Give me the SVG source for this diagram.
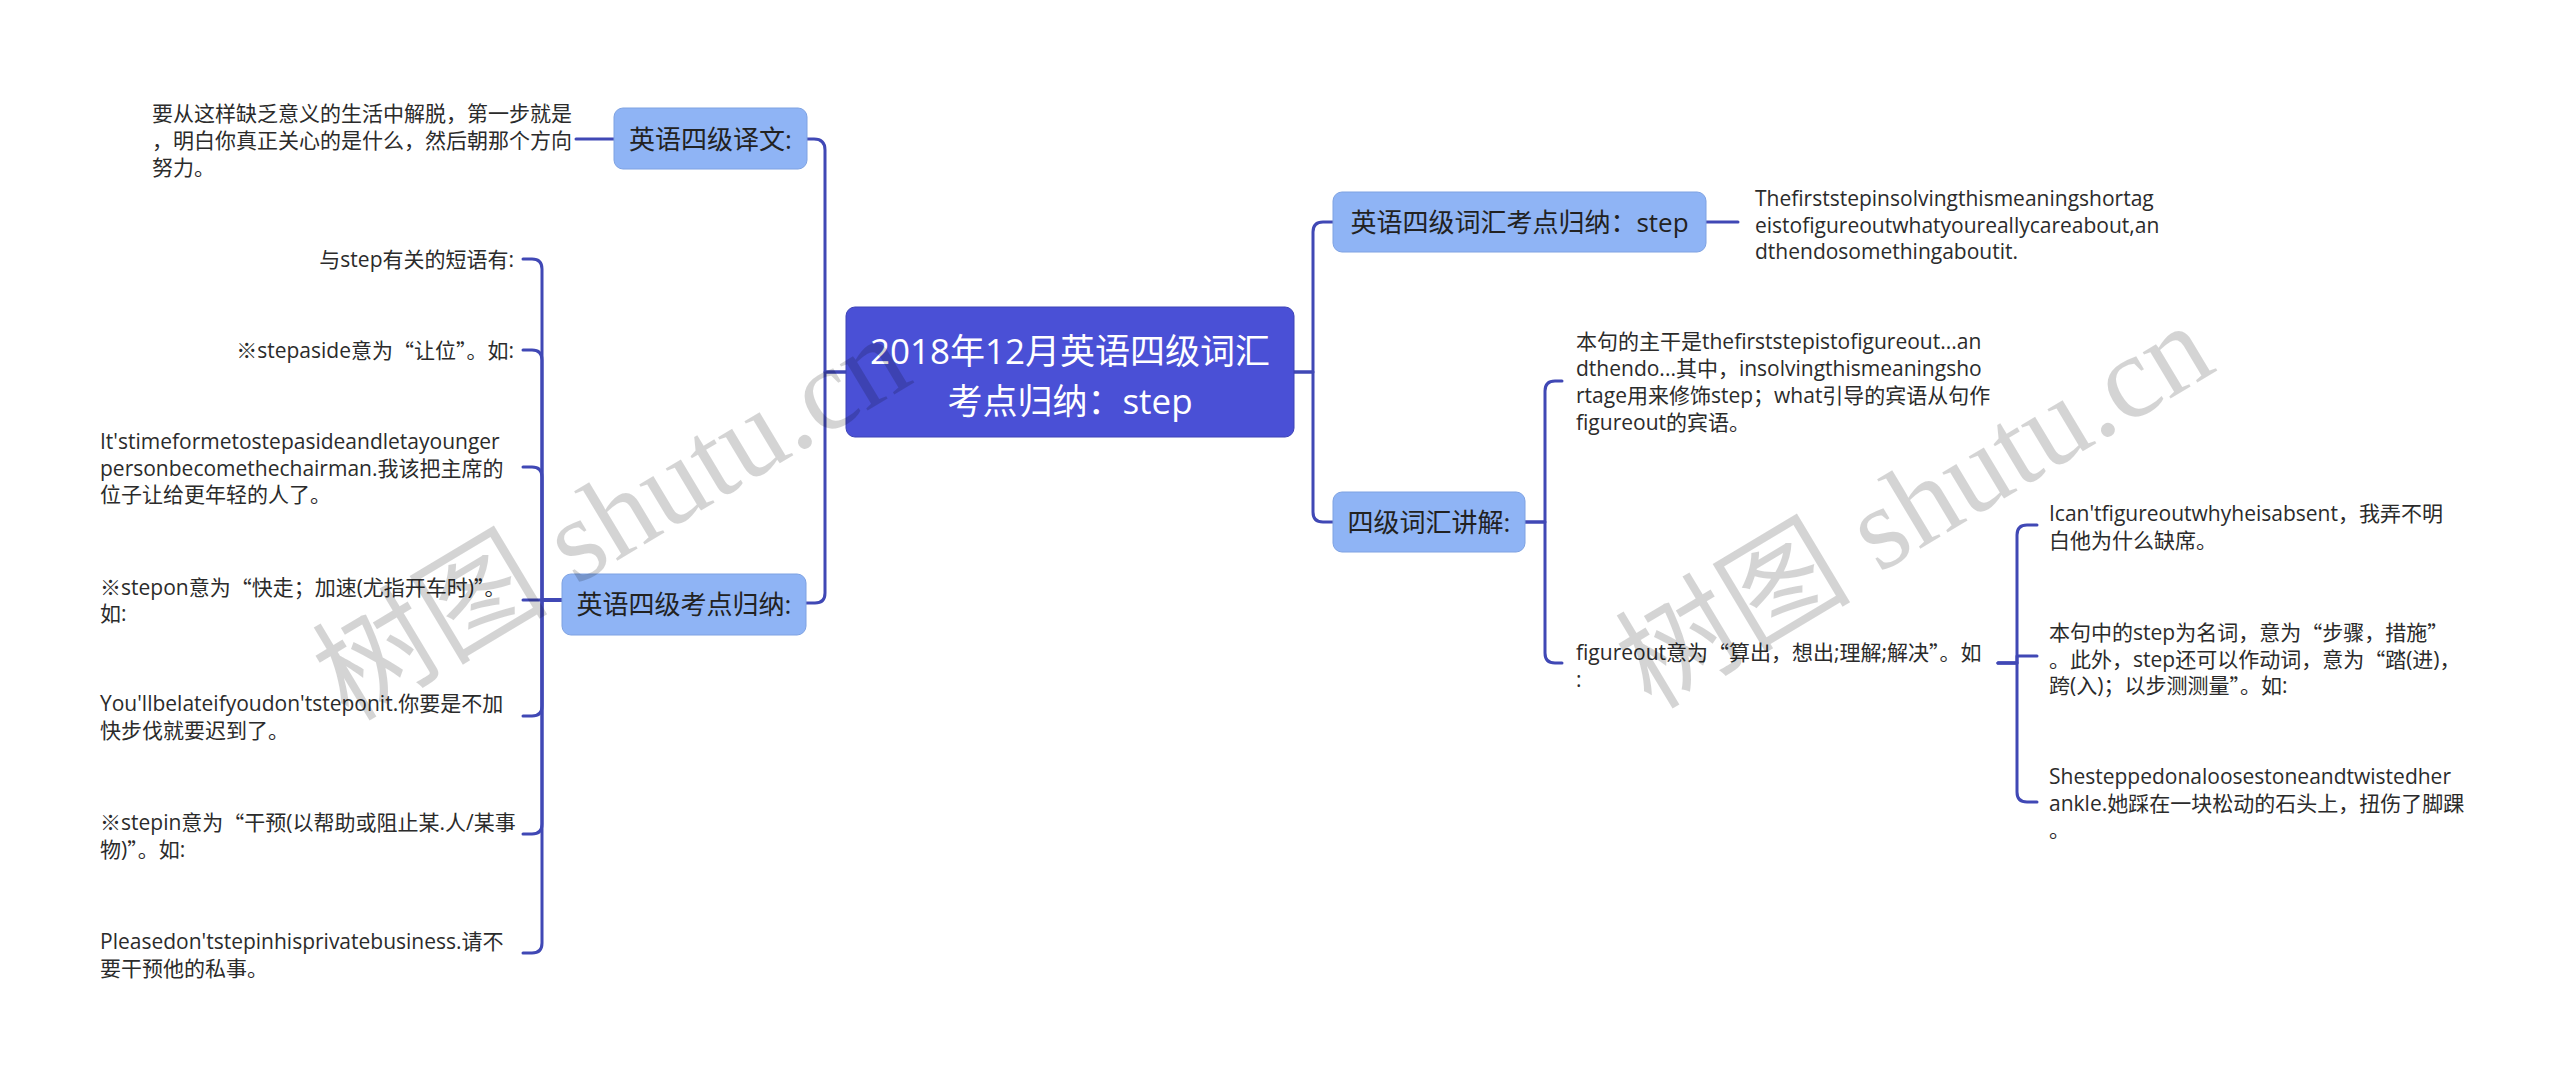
<svg xmlns="http://www.w3.org/2000/svg" width="2560" height="1079" viewBox="0 0 2560 1079">
<style>
.bg{fill:#ffffff}
.ln{fill:none;stroke:#4048b5;stroke-width:3;stroke-linecap:round;stroke-linejoin:round}
.box{fill:#8fb4f5;stroke:#7ea2e2;stroke-width:1}
.root{fill:#4a50d6;stroke:#3c42b6;stroke-width:1}
.t{font-family:"Open Sans","Noto Sans CJK SC",sans-serif;font-size:21px;fill:#2b2b2b;dominant-baseline:central}
.q{font-family:"Noto Sans CJK SC",sans-serif}
.bt{font-family:"Open Sans","Noto Sans CJK SC",sans-serif;font-size:26px;fill:#222222;dominant-baseline:central;text-anchor:middle}
.rt{font-family:"Open Sans","Noto Sans CJK SC",sans-serif;font-size:35px;fill:#ffffff;dominant-baseline:central;text-anchor:middle}
.wm{font-family:"Liberation Serif","Noto Sans CJK SC",serif;font-size:118px;fill:#000000;fill-opacity:0.17}
.end{text-anchor:end}
</style>
<rect class="bg" x="0" y="0" width="2560" height="1079"/>

<g id="connectors">
  <path class="ln" d="M846,372 H825 V150 Q825,139 814,139 H807"/>
  <path class="ln" d="M846,372 H825 V593 Q825,603 815,603 H806"/>
  <path class="ln" d="M1294,372 H1313 V232 Q1313,222 1323,222 H1333"/>
  <path class="ln" d="M1294,372 H1313 V512 Q1313,522 1323,522 H1333"/>
  <path class="ln" d="M614,139 H576"/>
  <path class="ln" d="M562,600 H542 V269 Q542,259 532,259 H523"/>
  <path class="ln" d="M562,600 H542 V360 Q542,350 532,350 H523"/>
  <path class="ln" d="M562,600 H542 V477 Q542,467 532,467 H523"/>
  <path class="ln" d="M562,600 H523"/>
  <path class="ln" d="M562,600 H542 V706 Q542,716 532,716 H523"/>
  <path class="ln" d="M562,600 H542 V824 Q542,834 532,834 H523"/>
  <path class="ln" d="M562,600 H542 V943 Q542,953 532,953 H523"/>
  <path class="ln" d="M1706,222 H1738"/>
  <path class="ln" d="M1525,522 H1545 V391 Q1545,381 1555,381 H1562"/>
  <path class="ln" d="M1525,522 H1545 V653 Q1545,663 1555,663 H1562"/>
  <path class="ln" d="M1998,663 H2017 V535 Q2017,525 2027,525 H2037"/>
  <path class="ln" d="M1998,663 H2017 V656 H2037"/>
  <path class="ln" d="M1998,663 H2017 V792 Q2017,802 2027,802 H2037"/>
</g>

<g id="root">
  <rect class="root" x="846" y="307" width="448" height="130" rx="9"/>
  <text class="rt" x="1070" y="350">2018年12月英语四级词汇</text>
  <text class="rt" x="1070" y="400">考点归纳：step</text>
</g>

<g id="n-yiwen">
  <rect class="box" x="614" y="108" width="193" height="61" rx="9"/>
  <text class="bt" x="710.5" y="139">英语四级译文:</text>
</g>
<g id="n-yiwen-text">
  <text class="t"><tspan x="152" y="113">要从这样缺乏意义的生活中解脱，第一步就是</tspan><tspan x="152" y="140">，明白你真正关心的是什么，然后朝那个方向</tspan><tspan x="152" y="167">努力。</tspan></text>
</g>

<g id="n-kaodian">
  <rect class="box" x="562" y="574" width="244" height="61" rx="9"/>
  <text class="bt" x="684" y="604">英语四级考点归纳:</text>
</g>
<g id="n-k1"><text class="t end" x="514" y="259">与step有关的短语有:</text></g>
<g id="n-k2"><text class="t end" x="514" y="350">※stepaside意为<tspan class="q">“</tspan>让位<tspan class="q">”</tspan>。如:</text></g>
<g id="n-k3"><text class="t"><tspan x="100" y="441">It'stimeformetostepasideandletayounger</tspan><tspan x="100" y="467.5">personbecomethechairman.我该把主席的</tspan><tspan x="100" y="494">位子让给更年轻的人了。</tspan></text></g>
<g id="n-k4"><text class="t"><tspan x="100" y="587">※stepon意为<tspan class="q">“</tspan>快走；加速(尤指开车时)<tspan class="q">”</tspan>。</tspan><tspan x="100" y="613">如:</tspan></text></g>
<g id="n-k5"><text class="t"><tspan x="100" y="703">You'llbelateifyoudon'tsteponit.你要是不加</tspan><tspan x="100" y="730">快步伐就要迟到了。</tspan></text></g>
<g id="n-k6"><text class="t"><tspan x="100" y="822">※stepin意为<tspan class="q">“</tspan>干预(以帮助或阻止某.人/某事</tspan><tspan x="100" y="849">物)<tspan class="q">”</tspan>。如:</tspan></text></g>
<g id="n-k7"><text class="t"><tspan x="100" y="941">Pleasedon'tstepinhisprivatebusiness.请不</tspan><tspan x="100" y="968">要干预他的私事。</tspan></text></g>

<g id="n-cihui">
  <rect class="box" x="1333" y="192" width="373" height="60" rx="9"/>
  <text class="bt" x="1519.5" y="222">英语四级词汇考点归纳：step</text>
</g>
<g id="n-cihui-text">
  <text class="t"><tspan x="1755" y="198">Thefirststepinsolvingthismeaningshortag</tspan><tspan x="1755" y="224.5">eistofigureoutwhatyoureallycareabout,an</tspan><tspan x="1755" y="251">dthendosomethingaboutit.</tspan></text>
</g>

<g id="n-jiangjie">
  <rect class="box" x="1333" y="492" width="192" height="60" rx="9"/>
  <text class="bt" x="1429" y="522">四级词汇讲解:</text>
</g>
<g id="n-j1"><text class="t"><tspan x="1576" y="341">本句的主干是thefirststepistofigureout...an</tspan><tspan x="1576" y="368">dthendo...其中，insolvingthismeaningsho</tspan><tspan x="1576" y="395">rtage用来修饰step；what引导的宾语从句作</tspan><tspan x="1576" y="422">figureout的宾语。</tspan></text></g>
<g id="n-j2"><text class="t"><tspan x="1576" y="652">figureout意为<tspan class="q">“</tspan>算出，想出;理解;解决<tspan class="q">”</tspan>。如</tspan><tspan x="1576" y="679">:</tspan></text></g>
<g id="n-j21"><text class="t"><tspan x="2049" y="513">Ican'tfigureoutwhyheisabsent，我弄不明</tspan><tspan x="2049" y="540">白他为什么缺席。</tspan></text></g>
<g id="n-j22"><text class="t"><tspan x="2049" y="632">本句中的step为名词，意为<tspan class="q">“</tspan>步骤，措施<tspan class="q">”</tspan></tspan><tspan x="2049" y="658.5">。此外，step还可以作动词，意为<tspan class="q">“</tspan>踏(进)，</tspan><tspan x="2049" y="685">跨(入)；以步测测量<tspan class="q">”</tspan>。如:</tspan></text></g>
<g id="n-j23"><text class="t"><tspan x="2049" y="776">Shesteppedonaloosestoneandtwistedher</tspan><tspan x="2049" y="802.5">ankle.她踩在一块松动的石头上，扭伤了脚踝</tspan><tspan x="2049" y="829">。</tspan></text></g>

<g id="watermark">
  <text class="wm" x="0" y="0" text-anchor="middle" transform="translate(632,552) rotate(-31)">树图 shutu.cn</text>
  <text class="wm" x="0" y="0" text-anchor="middle" transform="translate(1935,540) rotate(-31)">树图 shutu.cn</text>
</g>
</svg>
